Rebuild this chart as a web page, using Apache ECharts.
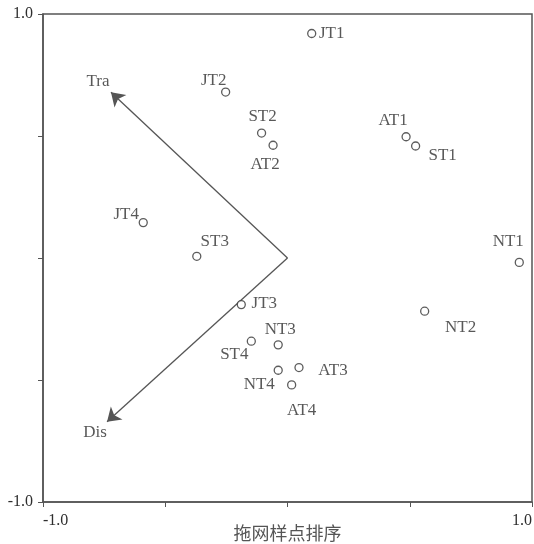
<!DOCTYPE html>
<html>
<head>
<meta charset="utf-8">
<script src="https://cdn.jsdelivr.net/npm/echarts@6/dist/echarts.min.js"></script>
<style>
html,body{margin:0;padding:0;background:#fff;}
#c{width:534px;height:544px;}
</style>
</head>
<body>
<div id="c"></div>
<script>
// ---- data ----
const siteNames = ['JT1','JT2','ST2','AT2','JT4','ST3','AT1','ST1','NT1','NT2','JT3','ST4','NT3','NT4','AT3','AT4'];
const siteX = [0.099,-0.253,-0.106,-0.059,-0.590,-0.371,0.485,0.524,0.948,0.561,-0.189,-0.148,-0.038,-0.038,0.047,0.017];
const siteY = [0.920,0.680,0.512,0.462,0.145,0.007,0.497,0.459,-0.018,-0.218,-0.191,-0.341,-0.356,-0.460,-0.449,-0.520];
const envNames = ['Tra','Dis'];
const envX = [-0.722,-0.738];
const envY = [0.679,-0.671];
const axisMin = -1.0;
const axisMax = 1.0;
const tickStep = 0.5;
const xTickLabels = ['-1.0','1.0'];
const yTickLabels = ['-1.0','1.0'];
const xAxisTitle = '拖网样点排序';

// ---- label placement (pixels, relative to point) ----
const labelOffsets = {
  JT1:[20,0], JT2:[-12,-12], ST2:[1,-17], AT2:[-8,19], JT4:[-17,-8], ST3:[18,-15],
  AT1:[-13,-16], ST1:[27,10], NT1:[-11,-21], NT2:[36,16], JT3:[23,-1], ST4:[-17,13],
  NT3:[2,-15], NT4:[-19,14], AT3:[34,3], AT4:[10,26], Tra:[-13,-11], Dis:[-12,11]
};

const serif = "'Liberation Serif','Times New Roman',serif";
const txtColor = '#2e2e2e';
const lineColor = '#555';

function fmt(v, labels){
  if (Math.abs(v - axisMin) < 1e-9) return labels[0];
  if (Math.abs(v - axisMax) < 1e-9) return labels[1];
  return '';
}

const siteData = siteNames.map((n,i)=>({ name:n, value:[siteX[i], siteY[i]] }));
const envLabelData = envNames.map((n,i)=>({ name:n, value:[envX[i], envY[i]] }));

function layoutFor(names){
  return function(p){
    const o = labelOffsets[names[p.dataIndex]] || [0,0];
    return {dx:o[0], dy:o[1], hideOverlap:false};
  };
}

const chart = echarts.init(document.getElementById('c'), null, {renderer:'canvas'});
chart.setOption({
  animation:false,
  backgroundColor:'#fff',
  grid:{left:43, right:2, top:14, bottom:42, containLabel:false, outerBoundsMode:'none',
    show:true, borderColor:lineColor, borderWidth:1.5, backgroundColor:'transparent'},
  xAxis:{
    type:'value', min:axisMin, max:axisMax, interval:tickStep,
    name:xAxisTitle, nameLocation:'middle', nameGap:31, nameMoveOverlap:false,
    nameTextStyle:{fontFamily:"'Noto Sans CJK SC',sans-serif", fontSize:18, color:'#555', verticalAlign:'middle'},
    axisLine:{show:true, onZero:false, lineStyle:{color:lineColor, width:1.5}},
    axisTick:{show:true, inside:false, length:5, lineStyle:{color:lineColor, width:1}},
    splitLine:{show:false},
    axisLabel:{formatter:v=>fmt(v,xTickLabels), fontFamily:serif, fontSize:16, color:txtColor, margin:11,
      alignMinLabel:'left', alignMaxLabel:'right', showMinLabel:true, showMaxLabel:true}
  },
  yAxis:{
    type:'value', min:axisMin, max:axisMax, interval:tickStep,
    axisLine:{show:true, onZero:false, lineStyle:{color:lineColor, width:1.5}},
    axisTick:{show:true, inside:false, length:5, lineStyle:{color:lineColor, width:1}},
    splitLine:{show:false},
    axisLabel:{formatter:v=>fmt(v,yTickLabels), fontFamily:serif, fontSize:16, color:txtColor, margin:10,
      showMinLabel:true, showMaxLabel:true}
  },
  series:[
    {
      type:'lines', coordinateSystem:'cartesian2d', z:2,
      data: envNames.map((n,i)=>({coords:[[0,0],[envX[i],envY[i]]]})),
      symbol:['none','arrow'], symbolSize:[0,13],
      lineStyle:{color:lineColor, width:1.3, opacity:1, curveness:0},
      silent:true
    },
    {
      type:'scatter', z:3, data:envLabelData, symbol:'circle', symbolSize:1,
      itemStyle:{color:'rgba(0,0,0,0)'},
      label:{show:true, position:'inside', formatter:'{b}', fontFamily:serif, fontSize:17, color:txtColor,
        align:'center', verticalAlign:'middle'},
      labelLayout: layoutFor(envNames)
    },
    {
      type:'scatter', z:4, data:siteData, symbol:'circle', symbolSize:8,
      itemStyle:{color:'#fff', borderColor:'#333', borderWidth:1.3},
      label:{show:true, position:'inside', formatter:'{b}', fontFamily:serif, fontSize:17, color:txtColor,
        align:'center', verticalAlign:'middle'},
      labelLayout: layoutFor(siteNames)
    }
  ]
});
</script>
</body>
</html>
